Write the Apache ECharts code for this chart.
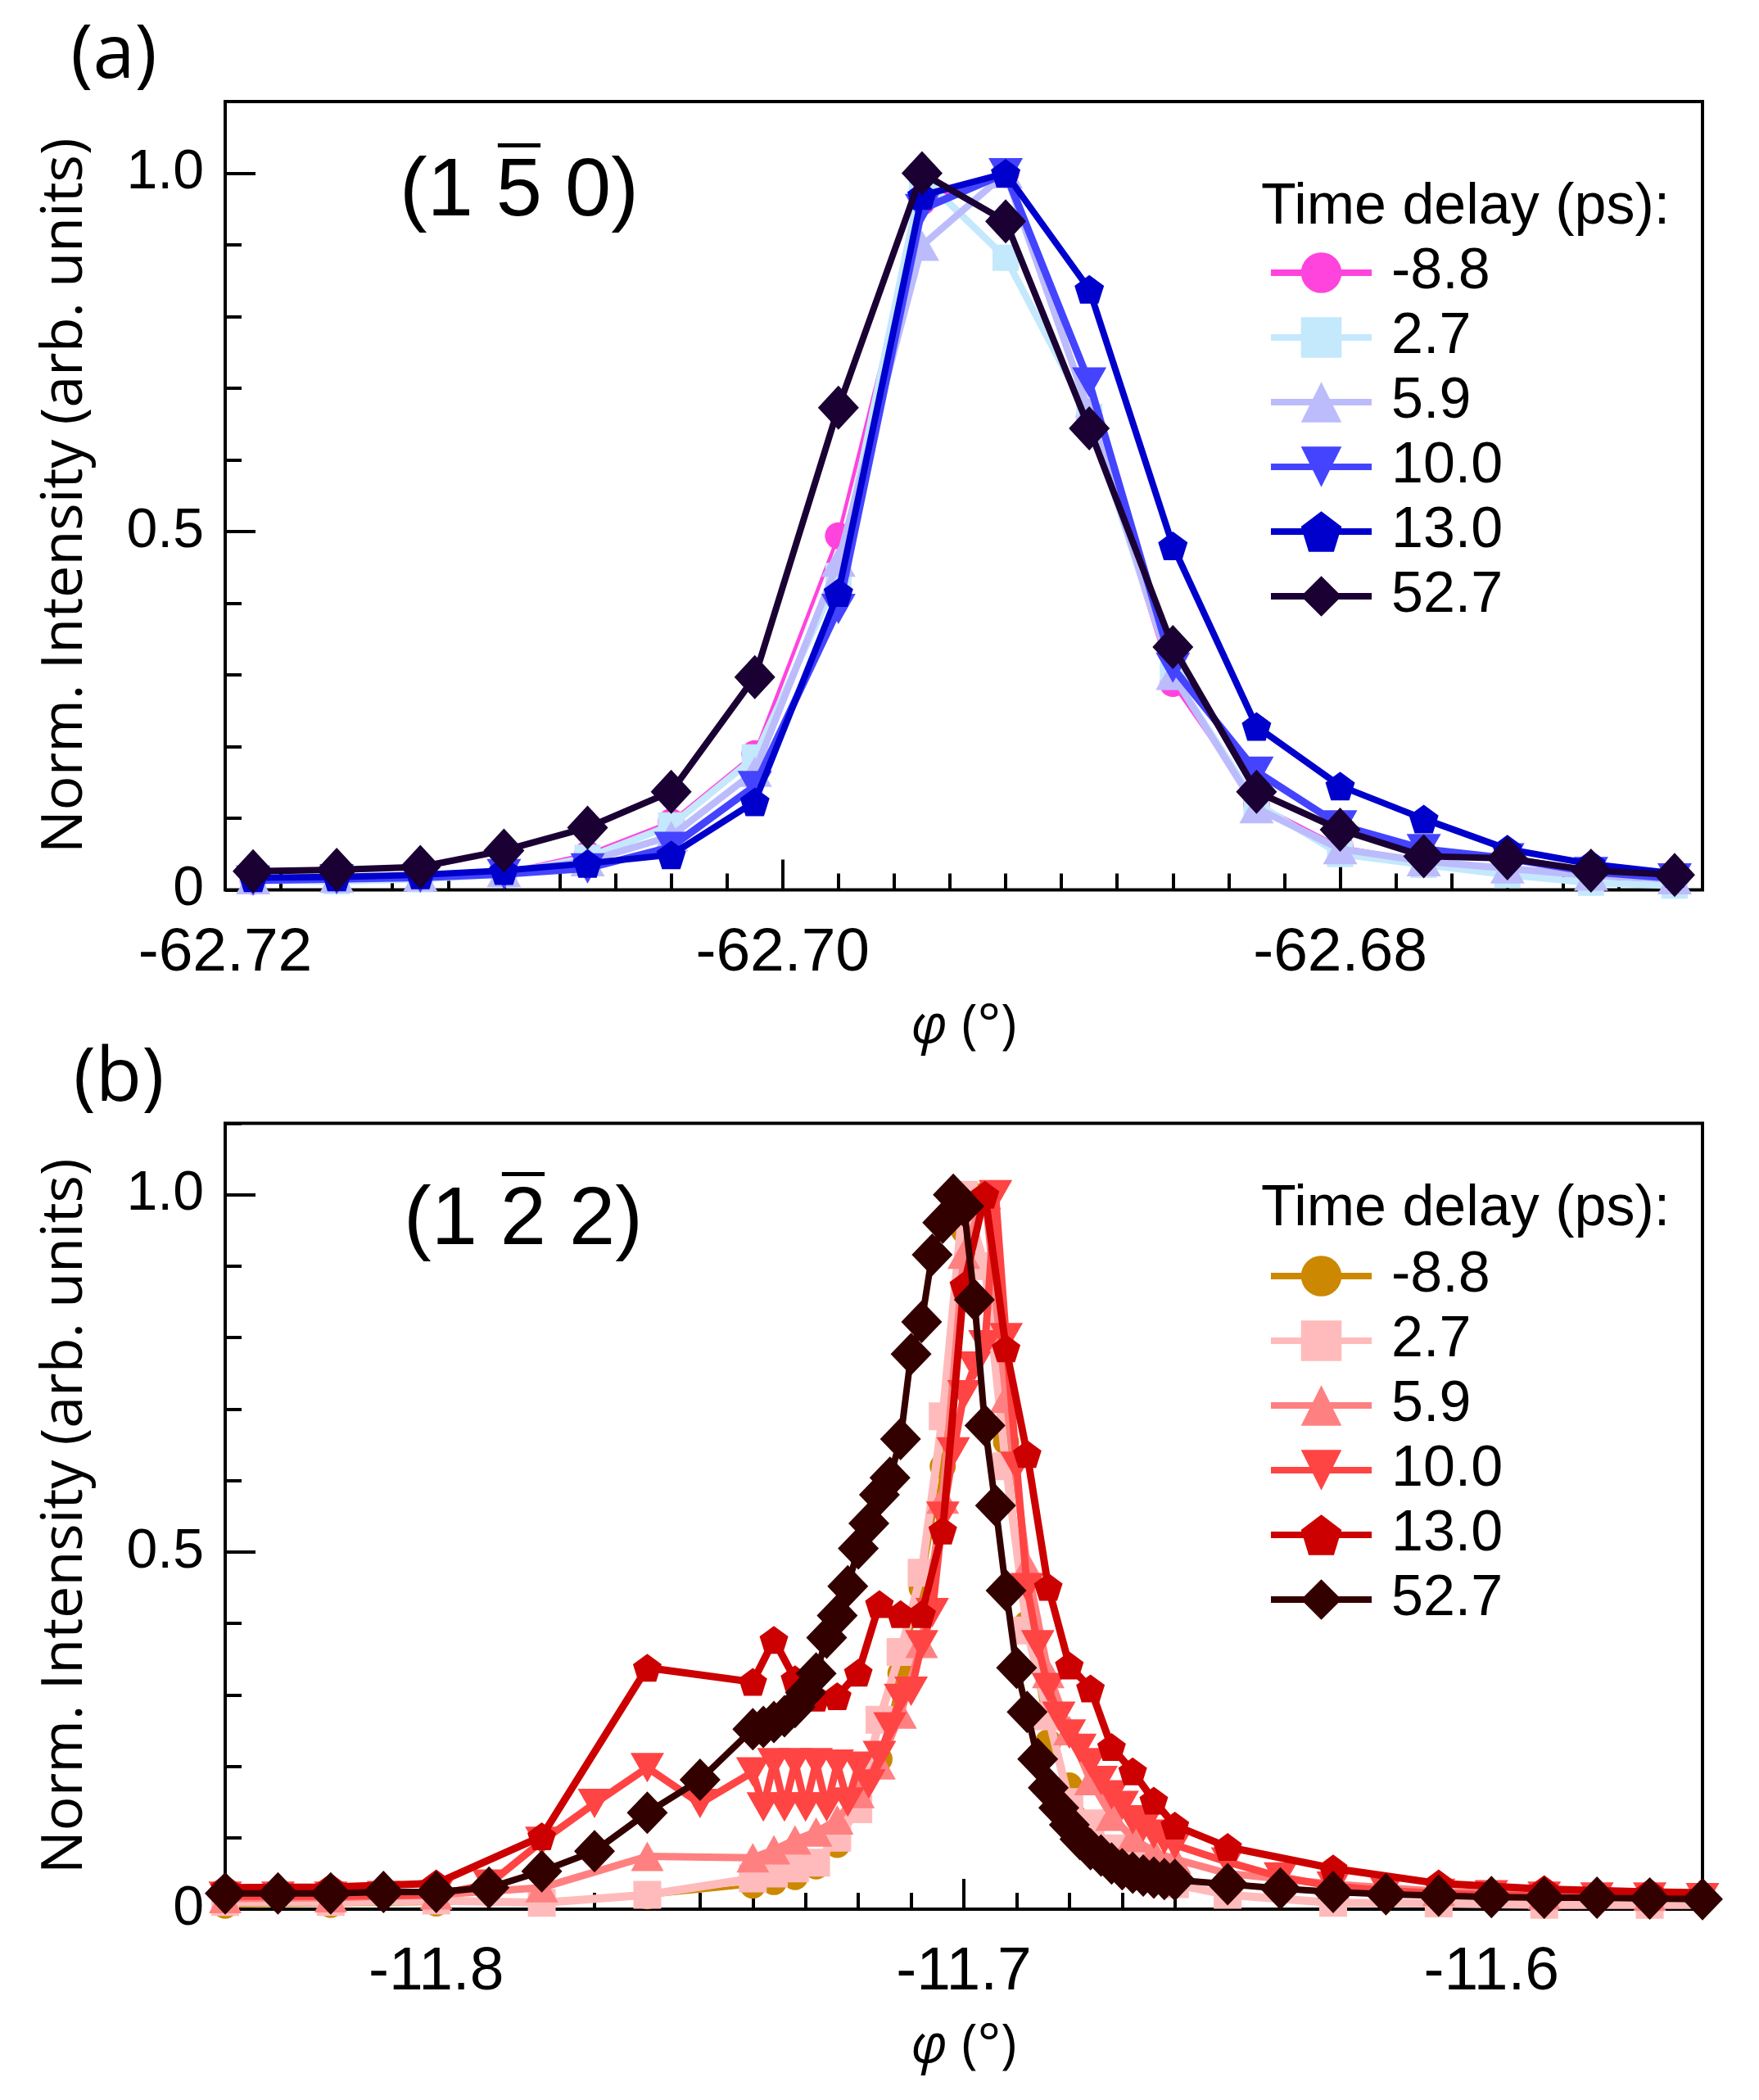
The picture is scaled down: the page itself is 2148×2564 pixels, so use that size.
<!DOCTYPE html>
<html><head><meta charset="utf-8">
<script src="https://cdn.jsdelivr.net/npm/echarts@6/dist/echarts.min.js"></script>
<style>html,body{margin:0;padding:0;background:#fff}#c{width:2148px;height:2564px}</style>
</head><body><div id="c"></div>
<script>
// ---------------- DATA ----------------
const delays = ['-8.8', '2.7', '5.9', '10.0', '13.0', '52.7'];

// Panel (a): (1 -5 0) reflection
const phiA = [-62.719,-62.716,-62.713,-62.710,-62.707,-62.704,-62.701,-62.698,-62.695,-62.692,-62.689,-62.686,-62.683,-62.680,-62.677,-62.674,-62.671,-62.668];
const A_m8_8 = [0.012,0.014,0.016,0.024,0.050,0.095,0.190,0.494,0.960,1.000,0.660,0.288,0.120,0.060,0.040,0.028,0.018,0.012];
const A_2_7  = [0.014,0.012,0.015,0.022,0.045,0.090,0.185,0.438,0.995,0.882,0.660,0.300,0.120,0.050,0.035,0.021,0.010,0.006];
const A_5_9  = [0.015,0.017,0.019,0.025,0.040,0.075,0.165,0.458,0.899,1.000,0.667,0.300,0.114,0.057,0.040,0.030,0.020,0.015];
const A_10_0 = [0.013,0.015,0.017,0.022,0.030,0.060,0.145,0.392,0.950,1.000,0.708,0.310,0.165,0.090,0.057,0.044,0.025,0.016];
const A_13_0 = [0.017,0.018,0.021,0.027,0.037,0.049,0.123,0.415,0.969,1.000,0.838,0.480,0.228,0.145,0.099,0.057,0.036,0.023];
const A_52_7 = [0.026,0.028,0.032,0.055,0.087,0.137,0.297,0.673,1.000,0.933,0.644,0.339,0.137,0.084,0.047,0.044,0.027,0.021];

// Panel (b): (1 -2 2) reflection
const phiB_fine = [-11.84,-11.83,-11.82,-11.81,-11.80,-11.79,-11.78,-11.77,-11.76,-11.75,-11.74,
  -11.738,-11.736,-11.734,-11.732,-11.730,-11.728,-11.726,-11.724,-11.722,-11.720,
  -11.718,-11.716,-11.714,-11.712,-11.710,-11.708,-11.706,-11.704,-11.702,-11.700,
  -11.698,-11.696,-11.694,-11.692,-11.690,-11.688,-11.686,-11.684,-11.682,-11.680,
  -11.678,-11.676,-11.674,-11.672,-11.670,-11.668,-11.666,-11.664,-11.662,-11.660,
  -11.65,-11.64,-11.63,-11.62,-11.61,-11.60,-11.59,-11.58,-11.57,-11.56];
const phiB_coarse = [-11.84,-11.82,-11.80,-11.78,-11.76,-11.74,
  -11.736,-11.732,-11.728,-11.724,-11.720,-11.716,-11.712,-11.708,-11.704,-11.700,
  -11.696,-11.692,-11.688,-11.684,-11.680,-11.676,-11.672,-11.668,-11.664,-11.660,
  -11.65,-11.63,-11.61,-11.59,-11.57,-11.55];
const B_m8_8 = [0.005,0.006,0.008,0.009,0.018,0.033, 0.038,0.045,0.060,0.090,0.140,0.210,0.330,0.450,0.620,0.950, 1.000,0.654,0.400,0.234,0.173,0.120,0.085,0.060,0.045,0.035, 0.020,0.010,0.007,0.005,0.005,0.005];
const B_2_7  = [0.010,0.010,0.012,0.009,0.020,0.043, 0.050,0.057,0.065,0.100,0.140,0.265,0.360,0.471,0.690,1.000, 0.900,0.620,0.390,0.270,0.150,0.120,0.085,0.060,0.045,0.035, 0.020,0.009,0.008,0.006,0.006,0.006];
const B_5_9  = [0.015,0.016,0.020,0.030,0.074,0.072, 0.083,0.097,0.108,0.125,0.162,0.202,0.273,0.372,0.574,0.917, 1.000,0.715,0.480,0.330,0.250,0.180,0.130,0.100,0.080,0.070, 0.050,0.035,0.025,0.020,0.018,0.017];
const B_10_0 = [0.018,0.018,0.018,0.019,0.020,0.035,0.095,0.148,0.198,0.148,0.192,
  0.143,0.205,0.143,0.205,0.143,0.205,0.143,0.203,0.150,0.200,
  0.175,0.215,0.255,0.295,0.305,0.370,0.415,0.550,0.640,0.720,
  0.760,0.790,1.000,0.800,0.620,0.450,0.370,0.310,0.270,0.245,
  0.225,0.205,0.180,0.160,0.145,0.125,0.115,0.105,0.097,0.090,
  0.066,0.045,0.032,0.026,0.022,0.020,0.018,0.017,0.017,0.016];
const B_13_0 = [0.030,0.031,0.036,0.102,0.338,0.318, 0.377,0.322,0.296,0.298,0.331,0.427,0.413,0.413,0.530,0.873, 1.000,0.785,0.637,0.451,0.341,0.309,0.227,0.193,0.152,0.117, 0.087,0.057,0.036,0.028,0.024,0.022];
const B_52_7 = [0.022,0.022,0.022,0.024,0.024,0.030,0.053,0.081,0.135,0.181,0.252,
  0.255,0.262,0.270,0.283,0.303,0.330,0.380,0.411,0.452,0.505,
  0.540,0.580,0.604,0.658,0.777,0.822,0.916,0.961,1.000,0.984,
  0.853,0.677,0.565,0.446,0.338,0.276,0.210,0.170,0.142,0.118,
  0.098,0.084,0.075,0.064,0.056,0.051,0.047,0.044,0.042,0.041,
  0.035,0.029,0.024,0.021,0.019,0.017,0.016,0.016,0.015,0.014];

// tick labels
const xTicksA = [-62.72, -62.70, -62.68];
const xTicksB = [-11.8, -11.7, -11.6];
const yTicks = [0, 0.5, 1.0];

// ---------------- STYLE ----------------
const FONT = '"Liberation Sans", Arial, sans-serif';
const FONT2 = '"Open Sans", "Noto Sans", sans-serif';
const PENT = 'path://M50,0 L100,36 L81,95 L19,95 L0,36 Z';
const DTRI = 'path://M0,0 L100,0 L50,90 Z';
const UTRI = 'path://M50,0 L100,90 L0,90 Z';

const symA = [
  {c:'#ff44dd', s:'circle', z:33, w:4.5},
  {c:'#c4e8fc', s:'rect', z:32, w:8.5},
  {c:'#bcbcfc', s:UTRI, z:[42,37], w:8.5},
  {c:'#4444ff', s:DTRI, z:[42,37], w:9},
  {c:'#0000cc', s:PENT, z:[36,35], w:8},
  {c:'#1a0033', s:'diamond', z:[50,54], w:8}
];
const symB = [
  {c:'#cc8800', s:'circle', z:32, w:4},
  {c:'#ffbbbb', s:'rect', z:34, w:10},
  {c:'#ff8080', s:UTRI, z:[40,36], w:9},
  {c:'#ff4444', s:DTRI, z:[41,36], w:9},
  {c:'#cc0000', s:PENT, z:[35,34], w:9},
  {c:'#330000', s:'diamond', z:[50,52], w:8}
];

function mk(prefix, axisIdx, i, xs, ys, st) {
  return {
    type: 'line', name: prefix + delays[i],
    xAxisIndex: axisIdx, yAxisIndex: axisIdx,
    data: xs.map((x, k) => [x, ys[k]]),
    symbol: st.s, symbolSize: st.z, showAllSymbol: true,
    lineStyle: {color: st.c, width: st.w},
    itemStyle: {color: st.c, borderWidth: 0},
    emphasis: {disabled: true}, animation: false, clip: true, z: 2 + i
  };
}

const series = [];
[A_m8_8, A_2_7, A_5_9, A_10_0, A_13_0, A_52_7].forEach((ys, i) => series.push(mk('A ', 1, i, phiA, ys, symA[i])));
const bX = [phiB_coarse, phiB_coarse, phiB_coarse, phiB_fine, phiB_coarse, phiB_fine];
[B_m8_8, B_2_7, B_5_9, B_10_0, B_13_0, B_52_7].forEach((ys, i) => series.push(mk('B ', 3, i, bX[i], ys, symB[i])));

const tickLine = {color: '#000', width: 4};
function xAxes(gi, min, max, minorInt, ticks, dec) {
  return [
    {type:'value', gridIndex:gi, min, max, interval:minorInt, position:'bottom',
     axisLine:{show:false}, splitLine:{show:false},
     axisTick:{show:true, inside:true, length:20, lineStyle:tickLine}, axisLabel:{show:false}},
    {type:'value', gridIndex:gi, min, max, position:'bottom',
     axisLine:{show:false}, splitLine:{show:false},
     axisTick:{show:true, inside:true, length:37, customValues:ticks, lineStyle:tickLine},
     axisLabel:{show:true, customValues:ticks, formatter:v => v.toFixed(dec), fontSize:75, fontFamily:FONT, color:'#000', margin:40},
     name:'{i|φ} (°)', nameLocation:'middle', nameGap:135,
     nameTextStyle:{fontSize:66, fontFamily:FONT2, color:'#000', rich:{i:{fontStyle:'italic', fontSize:66, fontFamily:FONT2, color:'#000'}}}}
  ];
}
function yAxes(gi) {
  return [
    {type:'value', gridIndex:gi, min:0, max:1.1, interval:0.1, position:'left',
     axisLine:{show:false}, splitLine:{show:false},
     axisTick:{show:true, inside:true, length:20, lineStyle:tickLine}, axisLabel:{show:false}},
    {type:'value', gridIndex:gi, min:0, max:1.1, position:'left',
     axisLine:{show:false}, splitLine:{show:false},
     axisTick:{show:true, inside:true, length:37, customValues:yTicks, lineStyle:tickLine},
     axisLabel:{show:true, customValues:yTicks, formatter:v => v === 0 ? '0' : v.toFixed(1), fontSize:68, fontFamily:FONT, color:'#000', margin:26},
     name:'Norm. Intensity (arb. units)', nameLocation:'middle', nameGap:160, nameRotate:90,
     nameTextStyle:{fontSize:70, fontFamily:FONT2, color:'#000'}}
  ];
}

function legend(prefix, top) {
  return {
    data: delays.map(d => prefix + d), left:1548, top, orient:'vertical',
    itemWidth:123, itemHeight:62, itemGap:9, padding:0, selectedMode:false,
    lineStyle:{width:8},
    formatter: n => n.slice(2),
    textStyle:{fontSize:70, fontFamily:FONT, color:'#000', padding:[0,0,0,19]}
  };
}

// overline positions via text measure
const HKL_SIZE = 101;
const ctx = document.createElement('canvas').getContext('2d');
ctx.font = HKL_SIZE + 'px "Liberation Sans"';
const wPre = ctx.measureText('(1 ').width;
const wDig = ctx.measureText('5').width;

function hkl(text, left, cy) {
  return [
    {type:'text', x:left, y:cy, style:{text, fontSize:HKL_SIZE, fontFamily:FONT, fill:'#000', align:'left', verticalAlign:'middle'}},
    {type:'rect', shape:{x:left + wPre + 2, y:cy - 60, width:wDig - 4, height:5}, style:{fill:'#000'}}
  ];
}

const option = {
  backgroundColor:'#fff', animation:false,
  grid:[
    {left:275, top:124, width:1804, height:962.5, show:true, borderColor:'#000', borderWidth:4, backgroundColor:'transparent', outerBoundsMode:'none', containLabel:false},
    {left:275, top:1371.5, width:1804, height:959.5, show:true, borderColor:'#000', borderWidth:4, backgroundColor:'transparent', outerBoundsMode:'none', containLabel:false}
  ],
  xAxis:[...xAxes(0, -62.72, -62.667, 0.002, xTicksA, 2), ...xAxes(1, -11.84, -11.56, 0.01, xTicksB, 1)],
  yAxis:[...yAxes(0), ...yAxes(1)],
  legend:[legend('A ', 298), legend('B ', 1523)],
  series,
  graphic:[
    {type:'text', x:139, y:69, style:{text:'(a)', fontSize:92, fontFamily:FONT2, fill:'#000', align:'center', verticalAlign:'middle'}},
    {type:'text', x:145, y:1318, style:{text:'(b)', fontSize:92, fontFamily:FONT2, fill:'#000', align:'center', verticalAlign:'middle'}},
    ...hkl('(1 5 0)', 488, 235),
    ...hkl('(1 2 2)', 493, 1491),
    {type:'text', x:1540, y:254, style:{text:'Time delay (ps):', fontSize:70, fontFamily:FONT, fill:'#000', align:'left', verticalAlign:'middle'}},
    {type:'text', x:1540, y:1477, style:{text:'Time delay (ps):', fontSize:70, fontFamily:FONT, fill:'#000', align:'left', verticalAlign:'middle'}}
  ]
};

const chart = echarts.init(document.getElementById('c'), null, {renderer:'canvas', width:2148, height:2564});
chart.setOption(option);
</script></body></html>
